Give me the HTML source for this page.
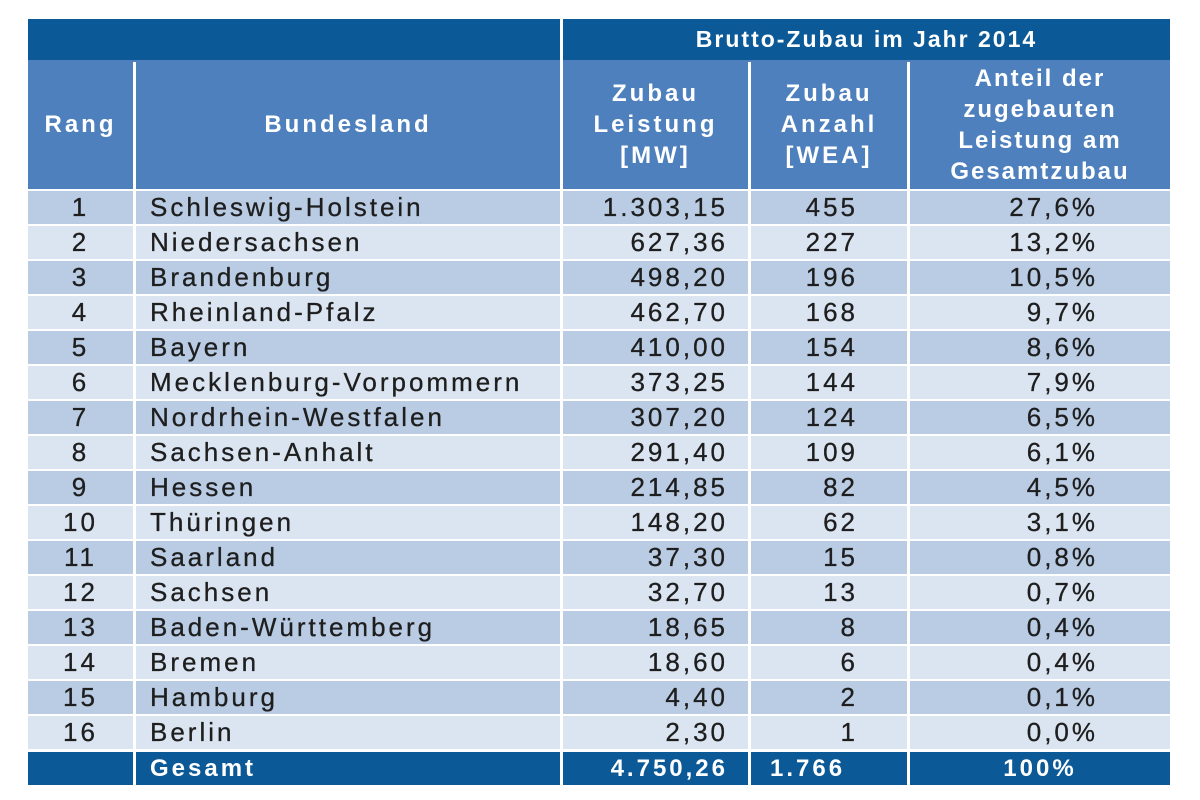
<!DOCTYPE html>
<html><head><meta charset="utf-8"><style>
body{margin:0;width:1200px;height:800px;background:#fff;font-family:"Liberation Sans",sans-serif;position:relative;overflow:hidden}
.c{position:absolute;box-sizing:border-box;display:flex;align-items:center;font-size:26px;letter-spacing:3px;white-space:nowrap}
.h{color:#fff;font-weight:bold;justify-content:center;text-align:center;line-height:31px;letter-spacing:3px;font-size:24px;-webkit-text-stroke:0}
.d{color:#1e1e1e;-webkit-text-stroke:0.3px #1e1e1e}
.n{letter-spacing:3px}
</style></head><body>
<div class="c" style="left:28px;top:19px;width:1142px;height:41px;background:#0b5a97"></div>
<div class="c h" style="left:563px;top:19px;width:607px;height:41px;font-size:23px;letter-spacing:2px">Brutto-Zubau im Jahr 2014</div>
<div class="c" style="left:28px;top:60px;width:1142px;height:129px;background:#4e80bd"></div>
<div class="c h" style="left:28px;top:60px;width:105px;height:129px">Rang</div>
<div class="c h" style="left:136px;top:60px;width:424px;height:129px">Bundesland</div>
<div class="c h" style="left:563px;top:60px;width:185px;height:129px">Zubau<br>Leistung<br>[MW]</div>
<div class="c h" style="left:751px;top:60px;width:156px;height:129px">Zubau<br>Anzahl<br>[WEA]</div>
<div class="c h" style="left:910px;top:60px;width:260px;height:129px;letter-spacing:2px">Anteil der<br>zugebauten<br>Leistung am<br>Gesamtzubau</div>
<div id="rows"></div>
<script>
var d=[["Schleswig-Holstein","1.303,15","455","27,6%"],["Niedersachsen","627,36","227","13,2%"],["Brandenburg","498,20","196","10,5%"],["Rheinland-Pfalz","462,70","168","9,7%"],["Bayern","410,00","154","8,6%"],["Mecklenburg-Vorpommern","373,25","144","7,9%"],["Nordrhein-Westfalen","307,20","124","6,5%"],["Sachsen-Anhalt","291,40","109","6,1%"],["Hessen","214,85","82","4,5%"],["Thüringen","148,20","62","3,1%"],["Saarland","37,30","15","0,8%"],["Sachsen","32,70","13","0,7%"],["Baden-Württemberg","18,65","8","0,4%"],["Bremen","18,60","6","0,4%"],["Hamburg","4,40","2","0,1%"],["Berlin","2,30","1","0,0%"]];
var h="";
for(var i=0;i<16;i++){var t=191+i*35,bg=i%2?"#dbe5f1":"#b9cce4",r=d[i];
h+='<div class="c" style="left:28px;top:'+t+'px;width:1142px;height:33px;background:'+bg+'"></div>';
h+='<div class="c d n" style="left:28px;top:'+t+'px;width:105px;height:33px;justify-content:center">'+(i+1)+'</div>';
h+='<div class="c d" style="left:150px;top:'+t+'px;width:400px;height:33px">'+r[0]+'</div>';
h+='<div class="c d n" style="left:563px;top:'+t+'px;width:165px;height:33px;justify-content:flex-end">'+r[1]+'</div>';
h+='<div class="c d n" style="left:751px;top:'+t+'px;width:107px;height:33px;justify-content:flex-end">'+r[2]+'</div>';
h+='<div class="c d n" style="left:910px;top:'+t+'px;width:188px;height:33px;justify-content:flex-end">'+r[3]+'</div>';}
h+='<div class="c" style="left:28px;top:752px;width:1142px;height:33px;background:#0b5a97"></div>';
h+='<div class="c h" style="left:150px;top:752px;height:33px">Gesamt</div>';
h+='<div class="c h" style="left:563px;top:752px;width:165px;height:33px;justify-content:flex-end">4.750,26</div>';
h+='<div class="c h" style="left:770px;top:752px;height:33px">1.766</div>';
h+='<div class="c h" style="left:910px;top:752px;width:260px;height:33px">100%</div>';
[133,560,748,907].forEach(function(x){h+='<div style="position:absolute;left:'+x+'px;top:'+(x==560?19:62)+'px;width:3px;height:'+(x==560?766:723)+'px;background:#fff"></div>';});
document.getElementById("rows").innerHTML=h;
</script>
</body></html>
